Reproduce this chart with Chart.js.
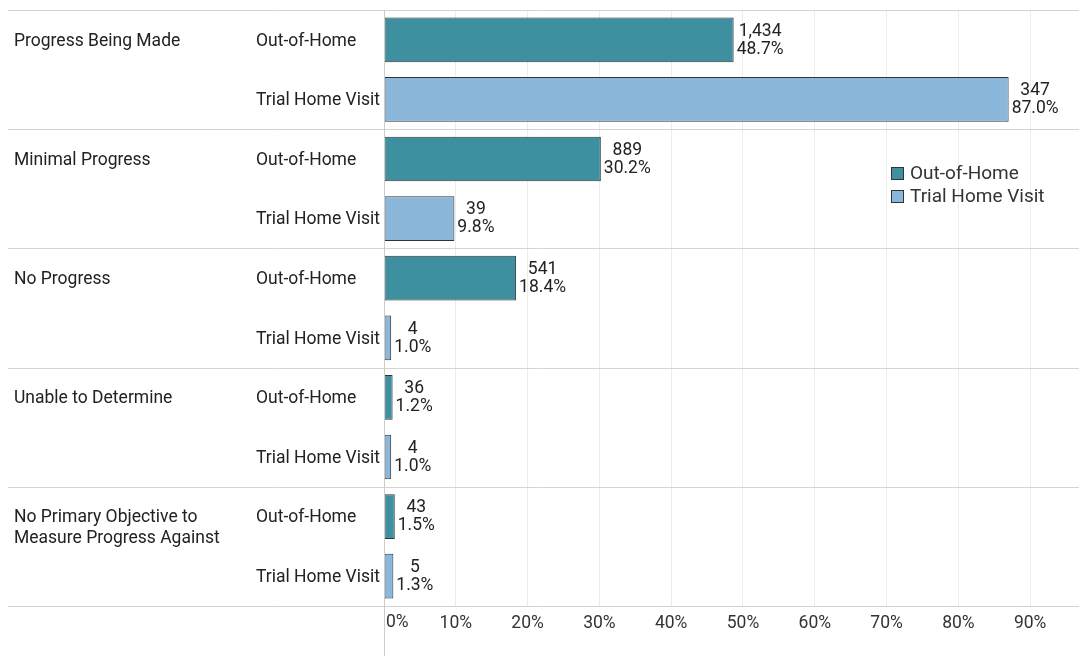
<!DOCTYPE html>
<html>
<head>
<meta charset="utf-8">
<script src="https://cdn.jsdelivr.net/npm/chart.js@4/dist/chart.umd.min.js"></script>
<style>
	body { margin: 0; background: #fff; }
	#wrap { width: 1079px; height: 656px; position: relative; }
</style>
</head>
<body>
<div id="wrap"><canvas id="myChart"></canvas></div>
<script>
// Группы (ось Y)
const groups = [
	'Progress Being Made',
	'Minimal Progress',
	'No Progress',
	'Unable to Determine',
	['No Primary Objective to', 'Measure Progress Against']
];
const seriesNames = ['Out-of-Home', 'Trial Home Visit'];

const outOfHomeCounts = [1434, 889, 541, 36, 43];
const outOfHomePct = [48.7, 30.2, 18.4, 1.2, 1.5];
const trialCounts = [347, 39, 4, 4, 5];
const trialPct = [87.0, 9.8, 1.0, 1.0, 1.3];

// Подписи на оси X
const xTickValues = [0, 10, 20, 30, 40, 50, 60, 70, 80, 90];

const counts = [outOfHomeCounts, trialCounts];
const colors = ['rgb(62, 143, 160)', 'rgb(139, 184, 218)'];

window.addEventListener('load', () => {
	Chart.defaults.font.family = 'Roboto';

	const drawExtras = {
		id: 'drawExtras',
		beforeDatasetsDraw(chart) {
			const ctx = chart.ctx;
			const area = chart.chartArea;
			const step = (area.bottom - area.top) / groups.length;
			ctx.save();
			ctx.strokeStyle = '#d4d4d4';
			ctx.lineWidth = 1;
			for (let i = 0; i <= groups.length; i++) {
				const y = Math.round(area.top + i * step) + 0.5;
				ctx.beginPath();
				ctx.moveTo(8, y);
				ctx.lineTo(chart.width, y);
				ctx.stroke();
			}
			ctx.restore();
		},
		afterDatasetsDraw(chart) {
			const ctx = chart.ctx;
			const area = chart.chartArea;
			ctx.save();

			// вертикальная ось
			ctx.strokeStyle = '#cccccc';
			ctx.lineWidth = 1;
			ctx.beginPath();
			ctx.moveTo(area.left + 0.5, area.top);
			ctx.lineTo(area.left + 0.5, chart.height);
			ctx.stroke();

			ctx.font = '17.5px Roboto';
			ctx.fillStyle = '#222';
			ctx.textBaseline = 'middle';

			chart.data.datasets.forEach((ds, di) => {
				const meta = chart.getDatasetMeta(di);
				meta.data.forEach((bar, i) => {
					const y = bar.y + 1.5;
					// подписи значений
					const l1 = counts[di][i].toLocaleString('en-US');
					const l2 = ds.data[i].toFixed(1) + '%';
					const w = Math.max(ctx.measureText(l1).width, ctx.measureText(l2).width);
					const cx = bar.x + 3 + w / 2;
					ctx.textAlign = 'center';
					ctx.fillText(l1, cx, y - 10);
					ctx.fillText(l2, cx, y + 8);

					// подписи рядов
					ctx.textAlign = 'left';
					ctx.fillText(seriesNames[di], 256, y);

					// подписи групп
					if (di === 0) {
						const lines = Array.isArray(groups[i]) ? groups[i] : [groups[i]];
						lines.forEach((t, k) => ctx.fillText(t, 14, y + k * 21));
					}
				});
			});

			// 0% у самой оси
			ctx.fillStyle = '#333';
			ctx.textAlign = 'left';
			ctx.fillText('0%', area.left + 2, area.bottom + 17);

			// легенда
			ctx.font = '19px Roboto';
			seriesNames.forEach((name, k) => {
				const y = 174 + k * 23;
				ctx.fillStyle = colors[k];
				ctx.fillRect(891.5, y - 6.5, 12, 12);
				ctx.strokeStyle = '#333';
				ctx.strokeRect(891.5, y - 6.5, 12, 12);
				ctx.fillStyle = '#333';
				ctx.fillText(name, 910, y);
			});
			ctx.restore();
		}
	};

	const data = {
		labels: groups,
		datasets: seriesNames.map((name, k) => ({
			label: name,
			data: k === 0 ? outOfHomePct : trialPct,
			backgroundColor: colors[k],
			borderColor: '#333',
			borderWidth: 1,
			borderSkipped: false,
			categoryPercentage: 1,
			barPercentage: 0.75
		}))
	};

	const options = {
		indexAxis: 'y',
		responsive: true,
		maintainAspectRatio: false,
		animation: false,
		layout: {
			padding: { left: 8, top: 10, right: 0, bottom: 0 }
		},
		plugins: {
			legend: { display: false },
			tooltip: { enabled: false }
		},
		scales: {
			x: {
				min: 0,
				max: 96.8,
				afterBuildTicks: (scale) => {
					scale.ticks = xTickValues.map(v => ({ value: v }));
				},
				afterFit: (scale) => {
					scale.height = 50;
				},
				border: { display: false },
				grid: {
					color: '#ececec',
					drawTicks: false
				},
				ticks: {
					color: '#333',
					font: { size: 17.5 },
					padding: 7,
					maxRotation: 0,
					callback: (v) => v === 0 ? '' : v + '%'
				}
			},
			y: {
				afterFit: (scale) => {
					scale.width = 376;
				},
				border: { display: false },
				grid: { display: false },
				ticks: { display: false }
			}
		}
	};

	new Chart(document.getElementById('myChart'), {
		type: 'bar',
		data: data,
		options: options,
		plugins: [drawExtras]
	});
});
</script>
</body>
</html>
